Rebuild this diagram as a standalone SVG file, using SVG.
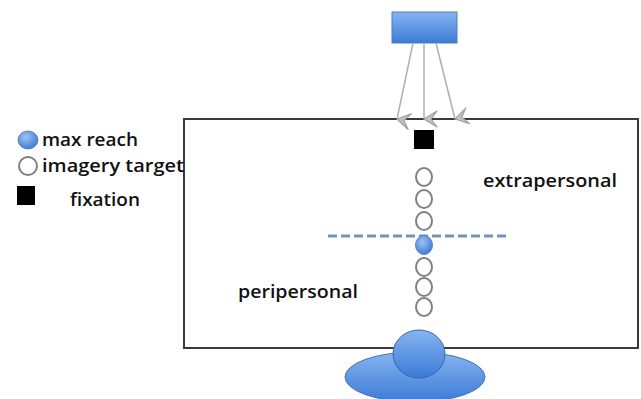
<svg xmlns="http://www.w3.org/2000/svg" width="641" height="399" viewBox="0 0 641 399">
<style>
.t{font-family:"Open Sans","Liberation Sans",sans-serif;font-size:18px;font-weight:600;fill:#111}
.ring{fill:#fff;stroke:#808080;stroke-width:2}
.blue{stroke:#5a86c0;stroke-width:1}
</style>
<defs>
<linearGradient id="gb" x1="0" y1="0" x2="0" y2="1">
<stop offset="0" stop-color="#86b4f0"/>
<stop offset="1" stop-color="#3b7bd6"/>
</linearGradient>
<radialGradient id="gc" cx="0.4" cy="0.35" r="0.7">
<stop offset="0" stop-color="#9cc3f5"/>
<stop offset="1" stop-color="#3c78cf"/>
</radialGradient>
<marker id="ah" markerWidth="18" markerHeight="18" refX="9" refY="16" orient="auto-start-reverse" markerUnits="userSpaceOnUse" viewBox="0 0 18 18">
<path d="M1,3 L9,16 L17,3 L9,9 Z" fill="#c4c4c4" stroke="#a0a0a0" stroke-width="1.2" stroke-linejoin="round"/>
</marker>
</defs>
<rect width="641" height="399" fill="#fff"/>
<g id="frame">
<rect x="184" y="119" width="454" height="229" fill="none" stroke="#3a3a3a" stroke-width="2"/>
</g>
<g id="source">
<rect x="392" y="12" width="65" height="31" fill="url(#gb)" stroke="#4d7fc2" stroke-width="1"/>
</g>
<g id="connectors" stroke="#b0b0b0" stroke-width="1.5" fill="none">
<path d="M413,43 L397,119" marker-end="url(#ah)"/>
<path d="M424,43 L424,119" marker-end="url(#ah)"/>
<path d="M436,43 L455,119" marker-end="url(#ah)"/>
<path d="M328,236 L507,236" stroke="#7393bb" stroke-width="3" stroke-dasharray="9,4"/>
</g>
<g id="fixation">
<rect x="414" y="130" width="20" height="19" fill="#000"/>
</g>
<g id="targets">
<ellipse class="ring" cx="424" cy="177" rx="8" ry="9"/>
<ellipse class="ring" cx="424" cy="199" rx="8" ry="9"/>
<ellipse class="ring" cx="424" cy="221" rx="8" ry="9"/>
<ellipse cx="424" cy="245" rx="8.5" ry="9.5" fill="url(#gc)" class="blue"/>
<ellipse class="ring" cx="424" cy="267" rx="8" ry="9"/>
<ellipse class="ring" cx="424" cy="287" rx="8" ry="9"/>
<ellipse class="ring" cx="424" cy="307" rx="8" ry="9"/>
</g>
<g id="observer">
<ellipse cx="415" cy="377" rx="70" ry="25" fill="url(#gb)" stroke="#4573b5" stroke-width="1"/>
<ellipse cx="419" cy="354" rx="26" ry="24" fill="url(#gb)" stroke="#3d66a3" stroke-width="1"/>
</g>
<g id="labels">
<text class="t" x="483" y="187" textLength="134" lengthAdjust="spacingAndGlyphs">extrapersonal</text>
<text class="t" x="238" y="298" textLength="120" lengthAdjust="spacingAndGlyphs">peripersonal</text>
</g>
<g id="legend">
<ellipse cx="28" cy="140" rx="10" ry="9" fill="url(#gc)" class="blue"/>
<text class="t" x="42" y="146" textLength="96" lengthAdjust="spacingAndGlyphs">max reach</text>
<ellipse class="ring" cx="28" cy="166" rx="9" ry="9" stroke-width="1.5"/>
<text class="t" x="42" y="172" textLength="142" lengthAdjust="spacingAndGlyphs">imagery target</text>
<rect x="17" y="186" width="18" height="19" fill="#000"/>
<text class="t" x="70" y="206" textLength="70" lengthAdjust="spacingAndGlyphs">fixation</text>
</g>
</svg>
